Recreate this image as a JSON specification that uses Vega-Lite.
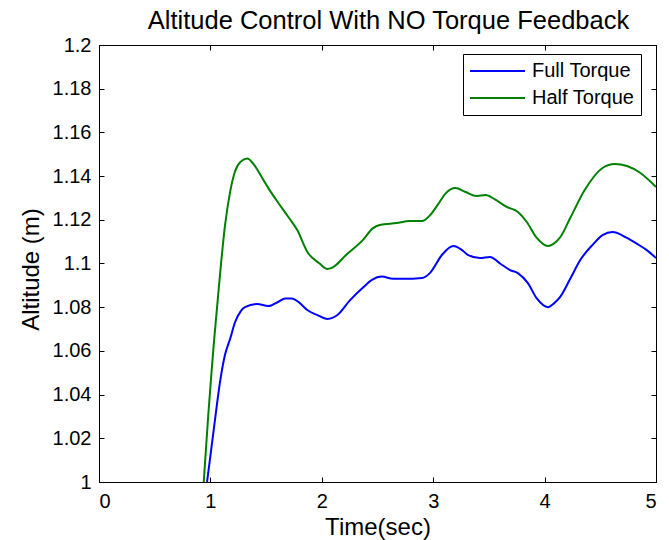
{
  "$schema": "https://vega.github.io/schema/vega-lite/v6.json",
  "width": 557,
  "height": 437,
  "autosize": "none",
  "padding": {"left": 99, "top": 45, "right": 13, "bottom": 58},
  "background": "white",
  "title": {
    "text": "Altitude Control With NO Torque Feedback",
    "font": "Liberation Sans",
    "fontSize": 25.5,
    "fontWeight": "normal",
    "color": "black",
    "baseline": "alphabetic",
    "offset": -19,
    "dx": 11
  },
  "config": {
    "view": {"stroke": "black", "strokeWidth": 1},
    "axis": {
      "grid": false,
      "domainColor": "black",
      "domainWidth": 1,
      "tickColor": "black",
      "tickWidth": 1,
      "tickSize": -5,
      "labelColor": "black",
      "labelFont": "Liberation Sans",
      "labelFontSize": 20,
      "titleColor": "black",
      "titleFont": "Liberation Sans",
      "titleFontSize": 24,
      "titleFontWeight": "normal"
    },
    "legend": {"strokeWidth": 1}
  },
  "data": {
    "values": [
      {"t": 0.97, "alt": 1.0, "series": "Full Torque"},
      {"t": 1.03, "alt": 1.024, "series": "Full Torque"},
      {"t": 1.09, "alt": 1.047, "series": "Full Torque"},
      {"t": 1.13, "alt": 1.058, "series": "Full Torque"},
      {"t": 1.18, "alt": 1.066, "series": "Full Torque"},
      {"t": 1.22, "alt": 1.073, "series": "Full Torque"},
      {"t": 1.27, "alt": 1.078, "series": "Full Torque"},
      {"t": 1.31, "alt": 1.08, "series": "Full Torque"},
      {"t": 1.42, "alt": 1.0815, "series": "Full Torque"},
      {"t": 1.52, "alt": 1.0805, "series": "Full Torque"},
      {"t": 1.61, "alt": 1.0825, "series": "Full Torque"},
      {"t": 1.67, "alt": 1.084, "series": "Full Torque"},
      {"t": 1.73, "alt": 1.084, "series": "Full Torque"},
      {"t": 1.8, "alt": 1.082, "series": "Full Torque"},
      {"t": 1.87, "alt": 1.0787, "series": "Full Torque"},
      {"t": 1.96, "alt": 1.0764, "series": "Full Torque"},
      {"t": 2.05, "alt": 1.0746, "series": "Full Torque"},
      {"t": 2.1, "alt": 1.0752, "series": "Full Torque"},
      {"t": 2.14, "alt": 1.0764, "series": "Full Torque"},
      {"t": 2.25, "alt": 1.083, "series": "Full Torque"},
      {"t": 2.37, "alt": 1.089, "series": "Full Torque"},
      {"t": 2.45, "alt": 1.0925, "series": "Full Torque"},
      {"t": 2.54, "alt": 1.094, "series": "Full Torque"},
      {"t": 2.64, "alt": 1.093, "series": "Full Torque"},
      {"t": 2.73, "alt": 1.093, "series": "Full Torque"},
      {"t": 2.9, "alt": 1.0934, "series": "Full Torque"},
      {"t": 2.97, "alt": 1.0956, "series": "Full Torque"},
      {"t": 3.08, "alt": 1.104, "series": "Full Torque"},
      {"t": 3.18, "alt": 1.108, "series": "Full Torque"},
      {"t": 3.25, "alt": 1.1065, "series": "Full Torque"},
      {"t": 3.31, "alt": 1.104, "series": "Full Torque"},
      {"t": 3.42, "alt": 1.1025, "series": "Full Torque"},
      {"t": 3.51, "alt": 1.103, "series": "Full Torque"},
      {"t": 3.6, "alt": 1.1, "series": "Full Torque"},
      {"t": 3.69, "alt": 1.097, "series": "Full Torque"},
      {"t": 3.76, "alt": 1.0956, "series": "Full Torque"},
      {"t": 3.85, "alt": 1.091, "series": "Full Torque"},
      {"t": 3.93, "alt": 1.084, "series": "Full Torque"},
      {"t": 4.03, "alt": 1.08, "series": "Full Torque"},
      {"t": 4.09, "alt": 1.082, "series": "Full Torque"},
      {"t": 4.14, "alt": 1.0847, "series": "Full Torque"},
      {"t": 4.23, "alt": 1.093, "series": "Full Torque"},
      {"t": 4.32, "alt": 1.1016, "series": "Full Torque"},
      {"t": 4.43, "alt": 1.1085, "series": "Full Torque"},
      {"t": 4.52, "alt": 1.113, "series": "Full Torque"},
      {"t": 4.61, "alt": 1.1144, "series": "Full Torque"},
      {"t": 4.74, "alt": 1.1117, "series": "Full Torque"},
      {"t": 4.83, "alt": 1.109, "series": "Full Torque"},
      {"t": 4.92, "alt": 1.106, "series": "Full Torque"},
      {"t": 5.0, "alt": 1.1025, "series": "Full Torque"},
      {"t": 0.94, "alt": 1.0, "series": "Half Torque"},
      {"t": 0.96, "alt": 1.015, "series": "Half Torque"},
      {"t": 0.98, "alt": 1.03, "series": "Half Torque"},
      {"t": 1.005, "alt": 1.047, "series": "Half Torque"},
      {"t": 1.03, "alt": 1.063, "series": "Half Torque"},
      {"t": 1.06, "alt": 1.08, "series": "Half Torque"},
      {"t": 1.09, "alt": 1.097, "series": "Half Torque"},
      {"t": 1.13, "alt": 1.117, "series": "Half Torque"},
      {"t": 1.18, "alt": 1.1336, "series": "Half Torque"},
      {"t": 1.22, "alt": 1.142, "series": "Half Torque"},
      {"t": 1.27, "alt": 1.1465, "series": "Half Torque"},
      {"t": 1.33, "alt": 1.148, "series": "Half Torque"},
      {"t": 1.38, "alt": 1.146, "series": "Half Torque"},
      {"t": 1.46, "alt": 1.1396, "series": "Half Torque"},
      {"t": 1.52, "alt": 1.1345, "series": "Half Torque"},
      {"t": 1.61, "alt": 1.1277, "series": "Half Torque"},
      {"t": 1.7, "alt": 1.1213, "series": "Half Torque"},
      {"t": 1.78, "alt": 1.1153, "series": "Half Torque"},
      {"t": 1.87, "alt": 1.1053, "series": "Half Torque"},
      {"t": 1.98, "alt": 1.1, "series": "Half Torque"},
      {"t": 2.05, "alt": 1.0975, "series": "Half Torque"},
      {"t": 2.09, "alt": 1.098, "series": "Half Torque"},
      {"t": 2.22, "alt": 1.104, "series": "Half Torque"},
      {"t": 2.37, "alt": 1.1108, "series": "Half Torque"},
      {"t": 2.46, "alt": 1.1162, "series": "Half Torque"},
      {"t": 2.52, "alt": 1.1176, "series": "Half Torque"},
      {"t": 2.67, "alt": 1.1185, "series": "Half Torque"},
      {"t": 2.79, "alt": 1.1194, "series": "Half Torque"},
      {"t": 2.9, "alt": 1.1194, "series": "Half Torque"},
      {"t": 2.97, "alt": 1.122, "series": "Half Torque"},
      {"t": 3.04, "alt": 1.1268, "series": "Half Torque"},
      {"t": 3.11, "alt": 1.132, "series": "Half Torque"},
      {"t": 3.2, "alt": 1.1345, "series": "Half Torque"},
      {"t": 3.29, "alt": 1.1327, "series": "Half Torque"},
      {"t": 3.39, "alt": 1.1309, "series": "Half Torque"},
      {"t": 3.47, "alt": 1.1313, "series": "Half Torque"},
      {"t": 3.55, "alt": 1.1295, "series": "Half Torque"},
      {"t": 3.66, "alt": 1.1259, "series": "Half Torque"},
      {"t": 3.76, "alt": 1.1236, "series": "Half Torque"},
      {"t": 3.84, "alt": 1.119, "series": "Half Torque"},
      {"t": 3.93, "alt": 1.1117, "series": "Half Torque"},
      {"t": 4.03, "alt": 1.108, "series": "Half Torque"},
      {"t": 4.08, "alt": 1.109, "series": "Half Torque"},
      {"t": 4.14, "alt": 1.112, "series": "Half Torque"},
      {"t": 4.23, "alt": 1.1208, "series": "Half Torque"},
      {"t": 4.36, "alt": 1.1336, "series": "Half Torque"},
      {"t": 4.52, "alt": 1.1437, "series": "Half Torque"},
      {"t": 4.63, "alt": 1.1455, "series": "Half Torque"},
      {"t": 4.74, "alt": 1.1446, "series": "Half Torque"},
      {"t": 4.86, "alt": 1.1414, "series": "Half Torque"},
      {"t": 5.0, "alt": 1.135, "series": "Half Torque"}
    ]
  },
  "layer": [
    {
      "mark": {"type": "line", "strokeWidth": 2, "interpolate": "monotone", "clip": true},
      "encoding": {
        "x": {
          "field": "t",
          "type": "quantitative",
          "scale": {"domain": [0, 5], "nice": false, "zero": false},
          "axis": {
            "title": "Time(sec)",
            "values": [0, 1, 2, 3, 4, 5],
            "format": "d",
            "labelPadding": 14,
            "titleBaseline": "alphabetic",
            "titleY": 52
          }
        },
        "y": {
          "field": "alt",
          "type": "quantitative",
          "scale": {"domain": [1, 1.2], "nice": false, "zero": false},
          "axis": {
            "title": "Altitude (m)",
            "values": [1, 1.02, 1.04, 1.06, 1.08, 1.1, 1.12, 1.14, 1.16, 1.18, 1.2],
            "format": ".2~f",
            "labelPadding": 13,
            "titleBaseline": "alphabetic",
            "titleX": -61,
            "titleY": 224
          }
        },
        "color": {
          "field": "series",
          "type": "nominal",
          "scale": {"domain": ["Full Torque", "Half Torque"], "range": ["#0000ff", "#008000"]},
          "legend": {
            "orient": "none",
            "legendX": 364,
            "legendY": 9,
            "title": null,
            "symbolType": "stroke",
            "symbolSize": 3025,
            "symbolStrokeWidth": 2,
            "clipHeight": 22,
            "labelFont": "Liberation Sans",
            "labelFontSize": 20,
            "labelColor": "black",
            "labelOffset": 6,
            "strokeColor": "black",
            "fillColor": "white",
            "padding": 6,
            "rowPadding": 5
          }
        }
      }
    },
    {
      "mark": {"type": "line", "opacity": 0},
      "encoding": {
        "x": {
          "field": "t",
          "type": "quantitative",
          "scale": {"domain": [0, 5], "nice": false, "zero": false},
          "axis": {
            "orient": "top",
            "title": null,
            "labels": false,
            "minExtent": 0,
            "maxExtent": 0,
            "values": [0, 1, 2, 3, 4, 5]
          }
        },
        "y": {
          "field": "alt",
          "type": "quantitative",
          "scale": {"domain": [1, 1.2], "nice": false, "zero": false},
          "axis": {
            "orient": "right",
            "title": null,
            "labels": false,
            "minExtent": 0,
            "maxExtent": 0,
            "values": [1, 1.02, 1.04, 1.06, 1.08, 1.1, 1.12, 1.14, 1.16, 1.18, 1.2]
          }
        },
        "detail": {"field": "series", "type": "nominal"}
      }
    }
  ],
  "resolve": {"scale": {"x": "independent", "y": "independent"}}
}
